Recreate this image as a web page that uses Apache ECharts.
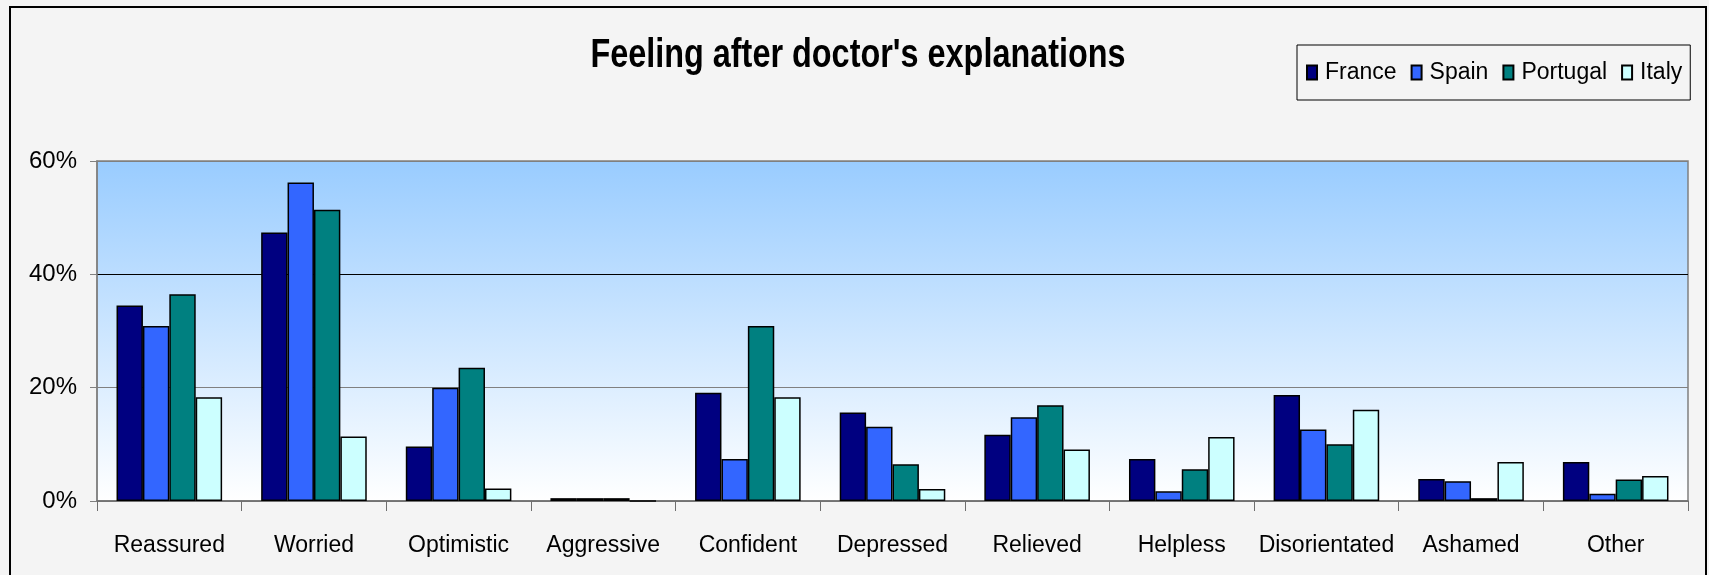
<!DOCTYPE html>
<html>
<head>
<meta charset="utf-8">
<title>Feeling after doctor's explanations</title>
<script src="https://cdn.jsdelivr.net/npm/echarts@6/dist/echarts.min.js"></script>
<style>
  html, body { margin: 0; padding: 0; background: #f4f4f4; }
  #chart { width: 1709px; height: 575px; }
</style>
</head>
<body>
<div id="chart"></div>
<script>
  var categories = ['Reassured', 'Worried', 'Optimistic', 'Aggressive', 'Confident', 'Depressed',
    'Relieved', 'Helpless', 'Disorientated', 'Ashamed', 'Other'];
  // values in %
  var france   = [34.5, 47.4, 9.6, 0.5, 19.1, 15.6, 11.7, 7.4, 18.7, 3.9, 6.9];
  var spain    = [30.9, 56.2, 20.0, 0.5, 7.4, 13.1, 14.8, 1.7, 12.6, 3.5, 1.3];
  var portugal = [36.5, 51.4, 23.5, 0.5, 30.9, 6.5, 16.9, 5.6, 10.0, 0.5, 3.8];
  var italy    = [18.3, 11.4, 2.2, 0, 18.3, 2.1, 9.1, 11.3, 16.1, 6.9, 4.4];
  var yTicks = [0, 20, 40, 60];

  // no narrow font installed, so use Liberation Sans a bit smaller
  var font = "'Liberation Sans Narrow', 'Arial Narrow', 'Liberation Sans', sans-serif";
  var labelSize = 23;

  function bar(name, data, color) {
    return {
      name: name,
      type: 'bar',
      data: data,
      barGap: '0%',
      barCategoryGap: '27%',
      itemStyle: { color: color, borderColor: '#000', borderWidth: 1.5 }
    };
  }

  var chart = echarts.init(document.getElementById('chart'));
  chart.setOption({
    backgroundColor: '#f4f4f4',
    animation: false,
    textStyle: { fontFamily: font },
    graphic: [{
      type: 'rect',
      shape: { x: 10, y: 7, width: 1696, height: 600 },
      style: { fill: 'none', stroke: '#000', lineWidth: 2 },
      silent: true
    }, {
      // title, squeezed to look like the narrow bold face
      type: 'text',
      x: 858,
      y: 36,
      scaleX: 0.81,
      silent: true,
      style: {
        text: "Feeling after doctor's explanations",
        fontFamily: font,
        fontSize: 40,
        fontWeight: 'bold',
        fill: '#000',
        align: 'center',
        verticalAlign: 'top'
      }
    }],
    legend: {
      left: 1297,
      top: 45,
      width: 408,
      padding: [16, 8, 16, 9],
      itemWidth: 10,
      itemHeight: 14,
      itemGap: 14,
      icon: 'rect',
      borderColor: '#000',
      borderWidth: 1,
      textStyle: { fontFamily: font, fontSize: labelSize, color: '#000', padding: [0, 0, 0, 3] },
      data: ['France', 'Spain', 'Portugal', 'Italy']
    },
    grid: {
      left: 97,
      right: 21,
      top: 161,
      bottom: 74,
      show: true,
      borderColor: '#808080',
      borderWidth: 1.5,
      backgroundColor: new echarts.graphic.LinearGradient(0, 0, 0, 1, [
        { offset: 0, color: '#99ccff' },
        { offset: 1, color: '#ffffff' }
      ])
    },
    xAxis: {
      type: 'category',
      data: categories,
      axisLine: { lineStyle: { color: '#6e6e6e', width: 1.5 } },
      axisTick: { show: true, interval: 0, length: 10, lineStyle: { color: '#6e6e6e' } },
      axisLabel: { interval: 0, margin: 33, fontFamily: font, fontSize: labelSize, color: '#000' }
    },
    yAxis: {
      type: 'value',
      min: yTicks[0],
      max: yTicks[yTicks.length - 1],
      interval: 20,
      axisLine: { show: true, lineStyle: { color: '#808080', width: 1.5 } },
      axisTick: { show: true, length: 7, lineStyle: { color: '#808080' } },
      axisLabel: { margin: 20, fontFamily: font, fontSize: labelSize + 1, color: '#000', formatter: '{value}%' },
      splitLine: { show: true, lineStyle: { color: ['#808080', '#808080', '#000', '#808080'], width: 1.2 } }
    },
    series: [
      bar('France', france, '#000080'),
      bar('Spain', spain, '#3366ff'),
      bar('Portugal', portugal, '#008080'),
      bar('Italy', italy, '#ccffff')
    ]
  });
</script>
</body>
</html>
